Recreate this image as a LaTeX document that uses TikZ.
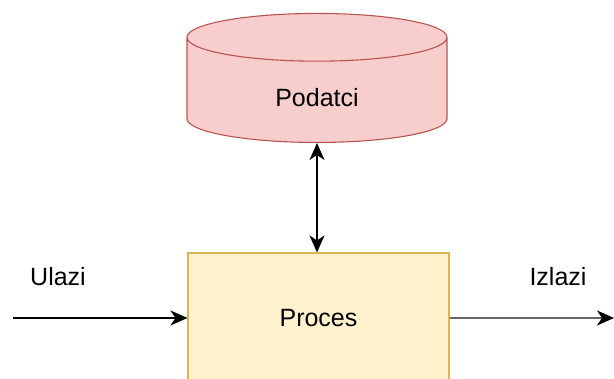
\documentclass[tikz,border=0pt]{standalone}
\usepackage{fontspec}
\setmainfont{Liberation Sans}
\usetikzlibrary{shapes.geometric, arrows.meta}

\definecolor{dbfill}{HTML}{F8CECC}
\definecolor{dbline}{HTML}{B85450}
\definecolor{procfill}{HTML}{FFF2CC}
\definecolor{procline}{HTML}{D6B656}

\begin{document}
\begin{tikzpicture}[x=1pt, y=-1pt, font=\fontsize{25}{30}\selectfont,
    tip/.style={-{Stealth[length=17pt, width=15pt, inset=5pt]}},
    flow/.style={line width=1.6pt}]
    \useasboundingbox (0, 0) rectangle (614, 379);

    \node[cylinder, shape border rotate=90, aspect=0.53, draw=dbline, fill=dbfill, line width=1.1pt,
          minimum width=260pt, minimum height=129pt, anchor=south, text height=28pt, text depth=0pt] (podatci) at (317, 143) {Podatci};
    \node[rectangle, draw=procline, fill=procfill, line width=1.1pt,
          minimum width=261pt, minimum height=130pt] (proces) at (318.5, 318) {Proces};

    \node (ulazi)  at (58, 277)  {Ulazi};
    \node (izlazi) at (558, 277) {Izlazi};
    \coordinate (inlet)  at (13, 318);
    \coordinate (outlet) at (614, 318);

    \draw[flow, tip] (inlet) -- (proces.west);
    \draw[flow, {Stealth[length=17pt, width=15pt, inset=5pt]}-{Stealth[length=17pt, width=15pt, inset=5pt]}]
        (podatci.south) -- (podatci.south |- proces.north);
    \draw[flow, black!60, -{Stealth[length=17pt, width=15pt, inset=5pt, color=black]}] (proces.east) -- (outlet);
\end{tikzpicture}
\end{document}
